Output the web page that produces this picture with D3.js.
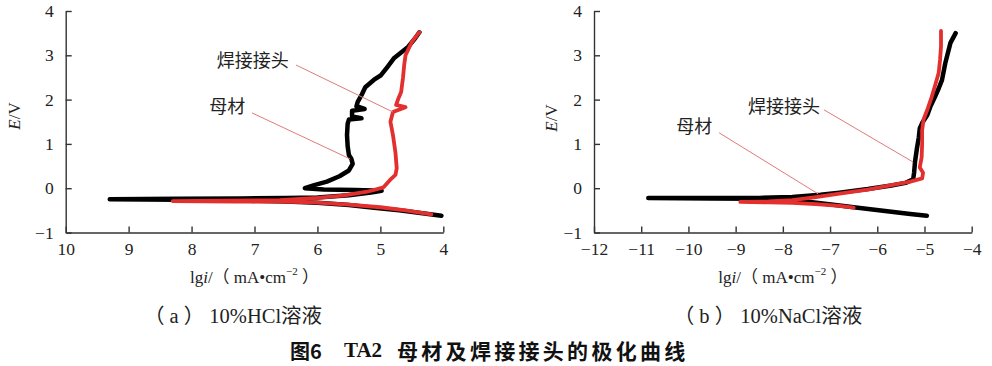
<!DOCTYPE html>
<html><head><meta charset="utf-8">
<script src="https://cdn.jsdelivr.net/npm/d3@7"></script>
<style>
html,body{margin:0;padding:0;background:#fff;}
svg{display:block;}
</style></head>
<body>
<svg id="chart" width="992" height="366"></svg>
<script>
// ---------------- data ----------------
const yTicks = [-1, 0, 1, 2, 3, 4];
const xTicksA = [10, 9, 8, 7, 6, 5, 4];
const xTicksB = [-12, -11, -10, -9, -8, -7, -6, -5, -4];
const seriesNames = ["母材", "焊接接头"];

// (a) 10% HCl  — [lgi, E]
const hclBase = [
  [4.03,-0.62],[4.3,-0.57],[4.7,-0.5],[5.1,-0.44],[5.5,-0.38],[6.0,-0.33],[6.5,-0.3],[7.2,-0.28],[8.2,-0.26],[9.3,-0.25],
  [8.2,-0.24],[7.2,-0.23],[6.5,-0.22],[6.0,-0.21],[5.5,-0.16],[5.15,-0.1],[4.98,-0.06],[5.4,-0.04],[5.9,-0.03],[6.2,0.0],
  [6.05,0.07],[5.85,0.15],[5.65,0.27],[5.5,0.4],[5.44,0.55],[5.46,0.66],[5.5,0.75],[5.52,0.95],[5.53,1.2],[5.52,1.45],
  [5.5,1.55],[5.3,1.58],[5.45,1.62],[5.45,1.75],[5.25,1.79],[5.38,1.85],[5.36,1.95],[5.3,2.1],[5.24,2.28],[5.1,2.45],
  [4.99,2.55],[4.88,2.75],[4.78,2.94],[4.56,3.19],[4.45,3.38],[4.38,3.52]
];
const hclWeld = [
  [4.19,-0.59],[4.6,-0.5],[5.0,-0.43],[5.5,-0.37],[6.07,-0.32],[6.6,-0.3],[7.3,-0.3],[8.3,-0.29],
  [7.5,-0.28],[6.6,-0.27],[6.0,-0.22],[5.6,-0.17],[5.21,-0.08],[4.95,0.02],[4.85,0.18],[4.76,0.3],[4.74,0.45],
  [4.76,0.8],[4.8,1.2],[4.84,1.5],[4.8,1.72],[4.6,1.83],[4.75,1.88],[4.72,2.0],[4.67,2.17],[4.64,2.5],[4.62,2.8],
  [4.6,3.0],[4.5,3.3],[4.42,3.45],[4.38,3.52]
];

// (b) 10% NaCl — [lgi, E]
const naclBase = [
  [-4.95,-0.62],[-5.3,-0.58],[-5.7,-0.53],[-6.1,-0.48],[-6.5,-0.43],[-6.8,-0.39],[-7.2,-0.34],[-7.6,-0.29],[-8.0,-0.26],
  [-8.6,-0.24],[-9.5,-0.23],[-10.85,-0.22],[-9.5,-0.22],[-8.5,-0.22],[-7.8,-0.2],[-7.2,-0.15],[-6.8,-0.1],[-6.2,-0.02],
  [-5.7,0.06],[-5.4,0.12],[-5.24,0.2],[-5.22,0.35],[-5.2,0.6],[-5.16,0.9],[-5.12,1.15],[-5.1,1.35],[-5.05,1.47],
  [-4.94,1.65],[-4.88,1.83],[-4.78,2.06],[-4.7,2.25],[-4.63,2.44],[-4.56,2.82],[-4.45,3.28],[-4.34,3.5]
];
const naclWeld = [
  [-6.5,-0.44],[-6.8,-0.4],[-7.3,-0.36],[-7.8,-0.33],[-8.3,-0.32],[-8.9,-0.31],[-8.3,-0.3],[-7.8,-0.27],[-7.3,-0.2],
  [-6.8,-0.12],[-6.2,-0.03],[-5.7,0.07],[-5.3,0.15],[-5.05,0.22],[-5.03,0.35],[-5.1,0.47],[-5.06,0.7],[-5.05,1.0],
  [-5.05,1.3],[-5.02,1.55],[-4.93,1.8],[-4.85,2.05],[-4.78,2.3],[-4.7,2.6],[-4.67,2.9],[-4.65,3.2],[-4.65,3.55]
];

// annotations: [name, labelX, labelY, fromX, fromY, toX, toY] in data units
const annA = [
  ["焊接接头", 7.60, 2.87, 6.34, 2.78, 4.80, 1.72],
  ["母材", 7.72, 1.83, 7.04, 1.70, 5.48, 0.66]
];
const annB = [
  ["焊接接头", -8.74, 1.83, -7.13, 1.77, -5.24, 0.59],
  ["母材", -10.26, 1.38, -9.35, 1.25, -7.25, -0.13]
];

const captionA = "（ a ） 10%HCl溶液";
const captionB = "（ b ） 10%NaCl溶液";
const title = ["图6", "TA2", "母材及焊接接头的极化曲线"];

// ---------------- drawing ----------------
const svg = d3.select("#chart");
const serif = "'Liberation Serif','Times New Roman','Noto Sans CJK SC',serif";
const cjk = "'Liberation Serif','Noto Sans CJK SC',sans-serif";

function panel(cfg) {
  const x = d3.scaleLinear().domain(cfg.xDomain).range([cfg.x0, cfg.x1]);
  const y = d3.scaleLinear().domain([-1, 4]).range([232.5, 11]);
  const g = svg.append("g");

  const fmt = d => (d < 0 ? "\u2212" + Math.abs(d) : String(d));

  const xa = g.append("g").attr("transform", `translate(0,${y(-1)})`)
    .call(d3.axisBottom(x).tickValues(cfg.xTicks).tickSizeInner(-6).tickSizeOuter(0).tickPadding(10).tickFormat(fmt));
  const ya = g.append("g").attr("transform", `translate(${cfg.x0},0)`)
    .call(d3.axisLeft(y).tickValues(yTicks).tickSizeInner(-6).tickSizeOuter(0).tickPadding(12).tickFormat(fmt));
  [xa, ya].forEach(a => {
    a.selectAll("path.domain").attr("stroke", "#333").attr("stroke-width", 1.4);
    a.selectAll(".tick line").attr("stroke", "#333").attr("stroke-width", 1.4);
    a.selectAll(".tick text").attr("fill", "#222").style("font-family", serif).style("font-size", "17.5px");
  });

  const line = d3.line().x(d => x(d[0])).y(d => y(d[1]));
  g.append("path").datum(cfg.base).attr("d", line).attr("fill", "none")
    .attr("stroke", "#000").attr("stroke-width", 4.5).attr("stroke-linejoin", "round").attr("stroke-linecap", "round");
  g.append("path").datum(cfg.weld).attr("d", line).attr("fill", "none")
    .attr("stroke", "#e3302f").attr("stroke-width", 3.8).attr("stroke-linejoin", "round").attr("stroke-linecap", "round");

  cfg.ann.forEach(a => {
    g.append("line").attr("x1", x(a[3])).attr("y1", y(a[4])).attr("x2", x(a[5])).attr("y2", y(a[6]))
      .attr("stroke", "#e07a7a").attr("stroke-width", 1);
    g.append("text").attr("x", x(a[1])).attr("y", y(a[2])).attr("dominant-baseline", "central")
      .style("font-family", cjk).style("font-size", "18px").attr("fill", "#222").text(a[0]);
  });

  // y label E/V
  const yl = g.append("text").attr("transform", `translate(${cfg.yLabelX},${cfg.yLabelY}) rotate(-90)`)
    .attr("text-anchor", "middle").attr("dominant-baseline", "central")
    .style("font-family", serif).style("font-size", "17px").attr("fill", "#222");
  yl.append("tspan").style("font-style", "italic").text("E");
  yl.append("tspan").text("/V");

  // x label
  const cx = (cfg.x0 + cfg.x1) / 2;
  const xl = g.append("text").attr("x", cx).attr("y", 277).attr("text-anchor", "middle")
    .attr("dominant-baseline", "central").style("font-family", serif).style("font-size", "17px").attr("fill", "#222");
  xl.append("tspan").text("lg");
  xl.append("tspan").style("font-style", "italic").text("i");
  xl.append("tspan").text("/（ mA\u2022cm");
  xl.append("tspan").attr("dy", -6).style("font-size", "11px").text("\u22122");
  xl.append("tspan").attr("dy", 6).text(" ）");

  g.append("text").attr("x", cfg.capX).attr("y", 316).attr("text-anchor", "middle")
    .attr("dominant-baseline", "central").style("font-family", cjk).style("font-size", "20.5px").attr("fill", "#222")
    .text(cfg.caption);
}

panel({ xDomain: [10, 4], x0: 65.7, x1: 443.3, xTicks: xTicksA, base: hclBase, weld: hclWeld, ann: annA,
  yLabelX: 14, yLabelY: 116, capX: 233, caption: captionA });
panel({ xDomain: [-12, -4], x0: 594, x1: 971.7, xTicks: xTicksB, base: naclBase, weld: naclWeld, ann: annB,
  yLabelX: 551, yLabelY: 118, capX: 768, caption: captionB });

const tStyle = s => s.attr("dominant-baseline", "central").attr("fill", "#111").style("font-weight", "bold");
tStyle(svg.append("text").attr("x", 290).attr("y", 350)
  .style("font-family", "'Noto Sans CJK SC',sans-serif").style("font-size", "20px").text(title[0]));
tStyle(svg.append("text").attr("x", 344).attr("y", 350)
  .style("font-family", "'Liberation Serif',serif").style("font-size", "21px").text(title[1]));
tStyle(svg.append("text").attr("x", 397).attr("y", 350)
  .style("font-family", "'Noto Sans CJK SC',sans-serif").style("font-size", "21px").style("letter-spacing", "3.3px").text(title[2]));
</script>
</body></html>
